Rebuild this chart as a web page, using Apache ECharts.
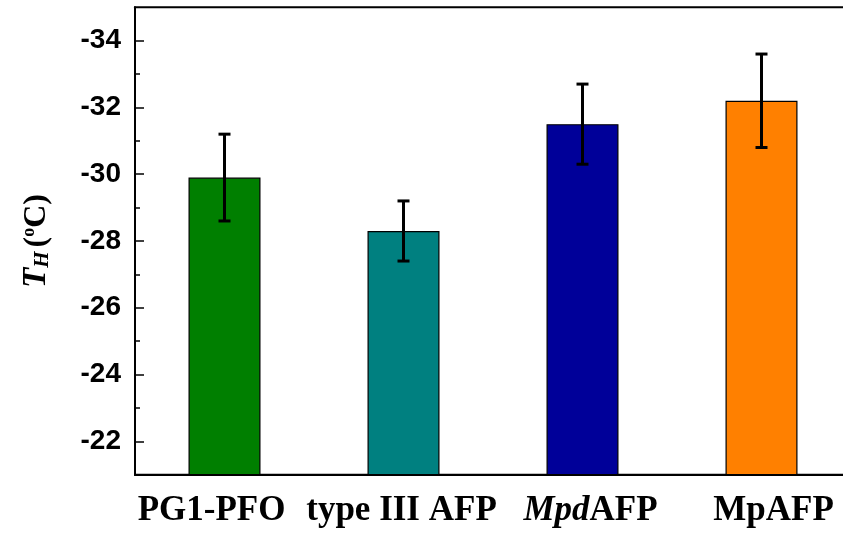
<!DOCTYPE html>
<html>
<head>
<meta charset="utf-8">
<script src="https://cdn.jsdelivr.net/npm/echarts@6/dist/echarts.min.js"></script>
<style>
  html, body { margin: 0; padding: 0; background: #fff; }
  #chart { width: 843px; height: 536px; }
</style>
</head>
<body>
<div id="chart"></div>
<script>
// Homogeneous nucleation temperature T_H for each sample (mean and error)
const categories = ['PG1-PFO', 'type III AFP', 'MpdAFP', 'MpAFP'];
const meanTH = [-29.9, -28.3, -31.5, -32.2];
const errTH = [1.3, 0.9, 1.2, 1.4];
const barColors = ['#007f00', '#008080', '#000099', '#ff8000'];
const yMajorTicks = [-34, -32, -30, -28, -26, -24, -22];
const yMinorTicks = [-33, -31, -29, -27, -25, -23];

const chart = echarts.init(document.getElementById('chart'));

const serif = 'Liberation Serif';
const sans = 'Liberation Sans';
const labelSize = 35;

// Category labels; each one sits slightly off its tick, nudged by padding
const labelRich = {};
const nudges = [-13, -2, 8, 12];
nudges.forEach((d, i) => {
  const pad = d >= 0 ? [0, 0, 0, 2 * d] : [0, -2 * d, 0, 0];
  labelRich['b' + i] = { fontFamily: serif, fontWeight: 'bold', fontSize: labelSize, color: '#000', padding: pad };
});
labelRich.i2 = { fontFamily: serif, fontWeight: 'bold', fontStyle: 'italic', fontSize: labelSize, color: '#000', padding: [0, 0, 0, 2 * nudges[2]] };
labelRich.a2 = { fontFamily: serif, fontWeight: 'bold', fontSize: labelSize, color: '#000' };

function xLabel(v, idx) {
  if (v === 'MpdAFP') return '{i2|Mpd}{a2|AFP}';
  return '{b' + idx + '|' + v + '}';
}

const errorData = meanTH.map((m, i) => [i, m - errTH[i], m + errTH[i]]);

chart.setOption({
  animation: false,
  backgroundColor: '#fff',
  grid: {
    left: 135,
    top: 7.3,
    width: 716,
    height: 467.4,
    outerBoundsMode: 'none',
    containLabel: false,
    show: true,
    borderColor: '#000',
    borderWidth: 2,
    backgroundColor: 'transparent'
  },
  xAxis: [
    {
      type: 'category',
      data: categories,
      position: 'bottom',
      z: 4,
      axisLine: { lineStyle: { color: '#000', width: 2 } },
      axisTick: { alignWithLabel: true, inside: true, length: 8, lineStyle: { color: '#000', width: 1.5 } },
      axisLabel: {
        margin: 19,
        interval: 0,
        formatter: xLabel,
        rich: labelRich
      },
      splitLine: { show: false }
    },
    {
      type: 'category',
      data: categories,
      position: 'bottom',
      axisLine: { show: false },
      axisTick: { alignWithLabel: false, inside: true, length: 5, interval: 0, lineStyle: { color: '#000', width: 1.5 } },
      axisLabel: { show: false },
      splitLine: { show: false }
    }
  ],
  yAxis: [
    {
      type: 'value',
      inverse: true,
      min: -35,
      max: -21,
      interval: 1,
      axisLine: { show: true, lineStyle: { color: '#000', width: 2 } },
      axisTick: { show: true, inside: true, length: 9, customValues: yMajorTicks, lineStyle: { color: '#000', width: 1.5 } },
      axisLabel: {
        customValues: yMajorTicks,
        margin: 14,
        fontFamily: sans,
        fontWeight: 'bold',
        fontSize: 28,
        color: '#000'
      },
      splitLine: { show: false },
      name: '{t|T}{s|H}{p|(}{o|o}{p|C)}',
      nameLocation: 'middle',
      nameRotate: 90,
      nameGap: 82,
      nameTextStyle: {
        rich: {
          t: { fontFamily: serif, fontWeight: 'bold', fontStyle: 'italic', fontSize: 33, color: '#000' },
          s: { fontFamily: serif, fontWeight: 'bold', fontStyle: 'italic', fontSize: 21, color: '#000', verticalAlign: 'bottom', padding: [0, 4, 0, 0] },
          p: { fontFamily: serif, fontWeight: 'bold', fontSize: 32, color: '#000' },
          o: { fontFamily: serif, fontWeight: 'bold', fontSize: 18, color: '#000', verticalAlign: 'top' }
        }
      }
    },
    {
      type: 'value',
      inverse: true,
      min: -35,
      max: -21,
      interval: 1,
      position: 'left',
      axisLine: { show: false },
      axisTick: { show: true, inside: true, length: 5, customValues: yMinorTicks, lineStyle: { color: '#000', width: 1.5 } },
      axisLabel: { show: false },
      splitLine: { show: false }
    }
  ],
  series: [
    {
      type: 'bar',
      xAxisIndex: 0,
      yAxisIndex: 0,
      barWidth: 72,
      clip: true,
      data: meanTH.map((v, i) => ({
        value: v,
        itemStyle: { color: barColors[i], borderColor: '#000', borderWidth: 1.2 }
      }))
    },
    {
      type: 'custom',
      xAxisIndex: 0,
      yAxisIndex: 0,
      data: errorData,
      renderItem: function (params, api) {
        const x = api.value(0);
        const lo = api.coord([x, api.value(1)]);
        const hi = api.coord([x, api.value(2)]);
        const cap = 6;
        const style = { stroke: '#000', lineWidth: 3 };
        return {
          type: 'group',
          children: [
            { type: 'line', shape: { x1: lo[0], y1: lo[1], x2: hi[0], y2: hi[1] }, style: style },
            { type: 'line', shape: { x1: lo[0] - cap, y1: lo[1], x2: lo[0] + cap, y2: lo[1] }, style: style },
            { type: 'line', shape: { x1: hi[0] - cap, y1: hi[1], x2: hi[0] + cap, y2: hi[1] }, style: style }
          ]
        };
      },
      z: 5
    }
  ]
});
</script>
</body>
</html>
